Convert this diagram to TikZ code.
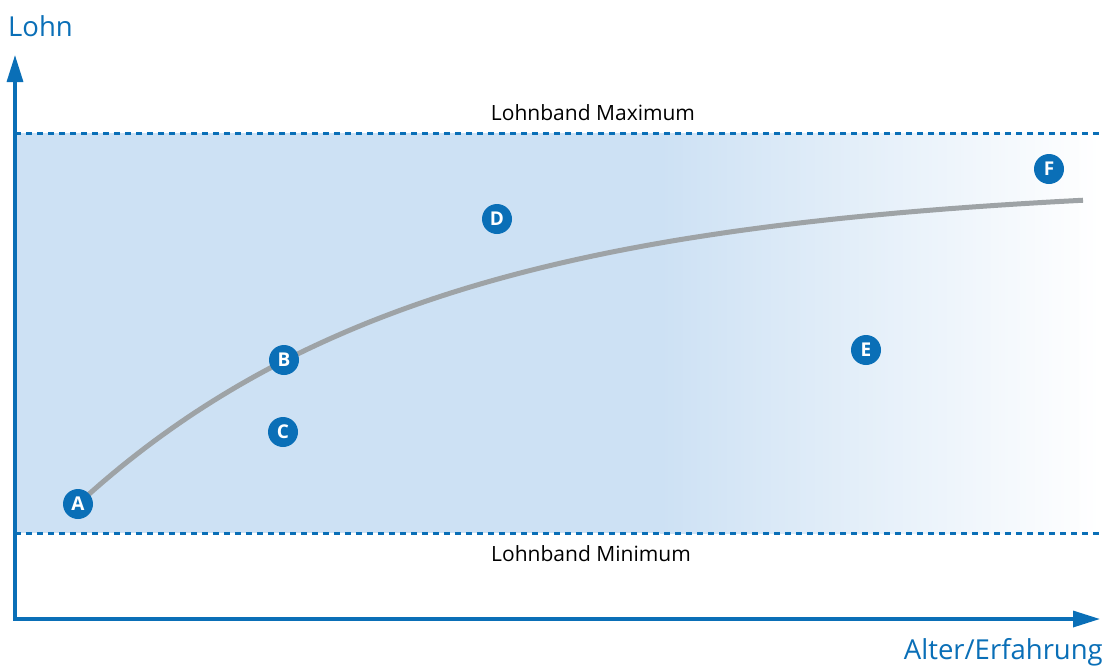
\documentclass[tikz,border=0pt]{standalone}
\usepackage{fontspec}
\setmainfont{Open Sans}
\usetikzlibrary{arrows.meta}

\definecolor{lohnblau}{HTML}{0A6FB7}
\definecolor{bandblau}{HTML}{CDE1F4}
\definecolor{kurvengrau}{HTML}{9EA3A6}

\tikzset{
  punkt/.style={circle, fill=lohnblau, text=white, inner sep=0pt, minimum size=30pt,
    font=\fontsize{19}{19}\selectfont\bfseries},
  grenze/.style={lohnblau, line width=3pt, dash pattern=on 6pt off 5pt},
  achse/.style={lohnblau, line width=3.3pt,
    {Triangle[length=27pt,width=16pt]}-{Triangle[length=27pt,width=16pt]}},
  achsentext/.style={text=lohnblau, inner sep=0pt, font=\fontsize{27.5}{27.5}\selectfont},
  bandtext/.style={inner sep=0pt, anchor=base, font=\fontsize{21}{21}\selectfont},
}

\begin{document}
\begin{tikzpicture}[x=1pt, y=-1pt]
  \useasboundingbox (0,0) rectangle (1105,665);

  % Lohnband
  \fill[bandblau] (15,133) rectangle (660,533);
  \shade[left color=bandblau, right color=white] (660,133) rectangle (1100,533);

  \coordinate (maxl) at (15,133);
  \coordinate (maxr) at (1100,133);
  \coordinate (minl) at (15,533);
  \coordinate (minr) at (1100,533);
  \draw[grenze] (maxl) -- (maxr);
  \draw[grenze] (minl) -- (minr);

  \node[bandtext] (maxtext) at (593,120) {Lohnband Maximum};
  \node[bandtext] (mintext) at (591,561) {Lohnband Minimum};

  % Achsen
  \coordinate (ursprung) at (15,619);
  \coordinate (ytip) at (15,55);
  \coordinate (xtip) at (1100,619);
  \draw[achse] (ytip) -- (ursprung) -- (xtip);

  \node[achsentext, anchor=base west] (lohn) at (8,36) {Lohn};
  \node[achsentext, anchor=base east] (alter) at (1103,659) {Alter/Erfahrung};

  % Lohnkurve
  \draw[kurvengrau, line width=5pt]
    plot[domain=78:1083, samples=120] (\x, {504-322*(1-exp(-(\x-78)/350))});

  % Punkte
  \node[punkt] (a) at (78,504) {A};
  \node[punkt] (b) at (284,360) {B};
  \node[punkt] (c) at (283,432) {C};
  \node[punkt] (d) at (497,219) {D};
  \node[punkt] (e) at (866,350) {E};
  \node[punkt] (f) at (1049,169) {F};
\end{tikzpicture}
\end{document}
